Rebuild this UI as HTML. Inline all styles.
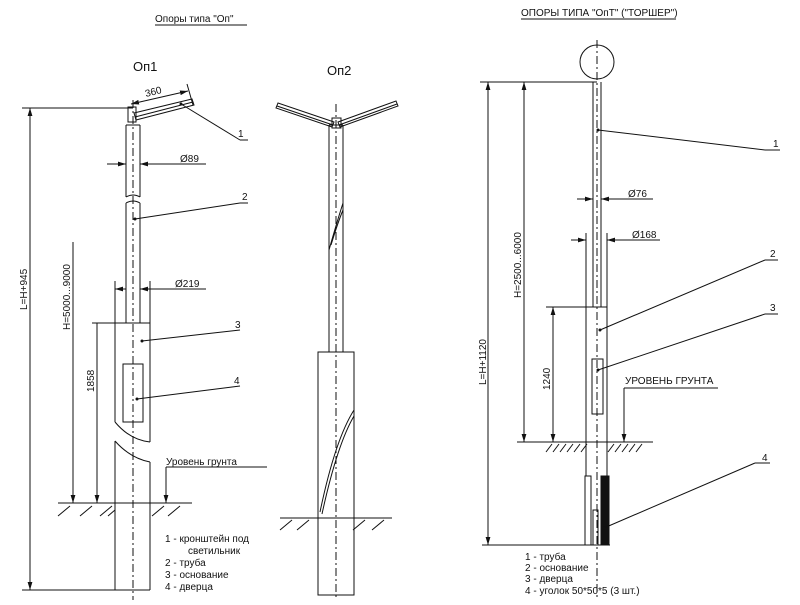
<!DOCTYPE html>
<html><head><meta charset="utf-8"><style>
html,body{margin:0;padding:0;background:#fff;}
svg{display:block;}
text{font-family:"Liberation Sans","DejaVu Sans",sans-serif;fill:#111;}
</style></head><body>
<svg width="800" height="605" viewBox="0 0 800 605" xmlns="http://www.w3.org/2000/svg">
<defs>
<marker id="a" viewBox="0 0 10 10" refX="10" refY="5" markerWidth="8" markerHeight="8" orient="auto-start-reverse" markerUnits="userSpaceOnUse"><path d="M0,2 L10,5 L0,8z" fill="#111"/></marker>
</defs>
<g stroke="#111" stroke-width="1" fill="none">
<!-- Titles -->
<line x1="155" y1="25" x2="247" y2="25"/>
<line x1="521" y1="19" x2="676" y2="19"/>

<!-- ===== Op1 ===== -->
<rect x="128" y="107" width="8" height="15"/>
<path d="M126,125 V197 M140,125 V197 M126,125 H140"/>
<path d="M126,197 Q133,193 140,197 M126,203 Q133,199 140,203"/>
<path d="M126,203 V323 M140,203 V323"/>
<line x1="133" y1="100" x2="133" y2="600" stroke-dasharray="8,3,2,3"/>
<!-- arm -->
<path d="M134,113 L192,99 L194,105 L136,120 z"/>
<line x1="135" y1="117" x2="193" y2="102"/>
<line x1="131" y1="104" x2="188" y2="91" marker-start="url(#a)" marker-end="url(#a)"/>
<line x1="187" y1="84" x2="193" y2="105"/>
<line x1="181" y1="104" x2="240" y2="140"/><line x1="240" y1="140" x2="248" y2="140"/>
<!-- dims -->
<line x1="22" y1="108" x2="133" y2="108"/>
<line x1="30" y1="108" x2="30" y2="590" marker-start="url(#a)" marker-end="url(#a)"/>
<line x1="73" y1="242" x2="73" y2="503" marker-end="url(#a)"/>
<line x1="107" y1="164" x2="126" y2="164" marker-end="url(#a)"/>
<line x1="153" y1="164" x2="140" y2="164" marker-end="url(#a)"/>
<line x1="140" y1="164" x2="206" y2="164"/>
<line x1="115" y1="281" x2="115" y2="323"/><line x1="150" y1="281" x2="150" y2="323"/>
<line x1="115" y1="289" x2="126" y2="289" marker-start="url(#a)"/>
<line x1="140" y1="289" x2="206" y2="289" marker-start="url(#a)"/>
<!-- base -->
<line x1="92" y1="323" x2="150" y2="323"/>
<path d="M115,323 V422 M150,323 V442 M115,422 Q130,440 150,442"/>
<path d="M115,441 Q130,458 150,462 M115,441 V590 M150,462 V590"/>
<line x1="97" y1="323" x2="97" y2="503" marker-end="url(#a)"/>
<rect x="123" y="364" width="20" height="58"/>
<line x1="22" y1="590" x2="150" y2="590"/>
<!-- leaders -->
<line x1="135" y1="219" x2="240" y2="203"/><line x1="240" y1="203" x2="248" y2="203"/>
<line x1="142" y1="341" x2="240" y2="330"/>
<line x1="137" y1="399" x2="240" y2="386"/>
<!-- ground -->
<line x1="58" y1="503" x2="192" y2="503"/>
<path d="M58,516 L70,506 M80,516 L92,506 M100,516 L112,506 M108,516 L115,510 M152,516 L164,506 M168,516 L180,506"/>
<line x1="166" y1="467" x2="267" y2="467"/>
<line x1="166" y1="467" x2="166" y2="503" marker-end="url(#a)"/>

<!-- ===== Op2 ===== -->
<rect x="332" y="118" width="9" height="10"/>
<path d="M329,125 V352 M343,125 V352 M329,125 H343"/>
<line x1="336" y1="104" x2="336" y2="600" stroke-dasharray="8,3,2,3"/>
<path d="M334,122 L278,103 L276,108 L332,127 z"/><line x1="333" y1="125" x2="277" y2="106"/>
<path d="M338,122 L396,101 L398,106 L340,127 z"/><line x1="339" y1="125" x2="397" y2="104"/>
<path d="M329,250 Q336,225 343,203 M331,245 Q338,222 343,210"/>
<rect x="318" y="352" width="36" height="243"/>
<path d="M320,512 Q335,440 354,410 M322,514 Q337,445 354,416"/>
<line x1="280" y1="518" x2="392" y2="518"/>
<path d="M280,530 L292,520 M297,530 L309,520 M353,530 L365,520 M372,530 L384,520"/>

<!-- ===== OpT ===== -->
<circle cx="597" cy="62" r="17"/>
<line x1="597" y1="40" x2="597" y2="600" stroke-dasharray="8,3,2,3"/>
<path d="M593,82 V307 M601,82 V307"/>
<line x1="480" y1="82" x2="597" y2="82"/>
<line x1="488" y1="82" x2="488" y2="545" marker-start="url(#a)" marker-end="url(#a)"/>
<line x1="524" y1="82" x2="524" y2="442" marker-start="url(#a)" marker-end="url(#a)"/>
<line x1="577" y1="199" x2="593" y2="199" marker-end="url(#a)"/>
<line x1="614" y1="199" x2="601" y2="199" marker-end="url(#a)"/>
<line x1="601" y1="199" x2="653" y2="199"/>
<line x1="586" y1="233" x2="586" y2="307"/><line x1="607" y1="233" x2="607" y2="307"/>
<line x1="571" y1="240" x2="586" y2="240" marker-end="url(#a)"/>
<line x1="620" y1="240" x2="607" y2="240" marker-end="url(#a)"/>
<line x1="607" y1="240" x2="660" y2="240"/>
<path d="M586,307 V476 M607,307 V476"/>
<line x1="546" y1="307" x2="607" y2="307"/>
<line x1="553" y1="307" x2="553" y2="442" marker-start="url(#a)" marker-end="url(#a)"/>
<rect x="592" y="359" width="11" height="55"/>
<line x1="517" y1="442" x2="653" y2="442"/>
<path d="M546,452 L552,444 M553,452 L559,444 M560,452 L566,444 M567,452 L573,444 M574,452 L580,444 M581,452 L587,444 M608,452 L614,444 M615,452 L621,444 M622,452 L628,444 M629,452 L635,444 M636,452 L642,444"/>
<line x1="624" y1="388" x2="718" y2="388"/>
<line x1="624" y1="388" x2="624" y2="442" marker-end="url(#a)"/>
<rect x="585" y="476" width="6" height="69"/>
<rect x="601" y="476" width="8" height="69" fill="#111"/>
<rect x="593" y="510" width="5" height="35"/>
<line x1="482" y1="545" x2="610" y2="545"/>
<line x1="598" y1="130" x2="765" y2="150"/><line x1="765" y1="150" x2="780" y2="150"/>
<line x1="600" y1="330" x2="765" y2="260"/><line x1="765" y1="260" x2="778" y2="260"/>
<line x1="598" y1="370" x2="765" y2="314"/><line x1="765" y1="314" x2="778" y2="314"/>
<line x1="604" y1="528" x2="755" y2="463"/><line x1="755" y1="463" x2="770" y2="463"/>
</g>
<g fill="#111">
<circle cx="181" cy="104" r="1.5"/><circle cx="135" cy="219" r="1.5"/><circle cx="142" cy="341" r="1.5"/><circle cx="137" cy="399" r="1.5"/>
<circle cx="598" cy="130" r="1.5"/><circle cx="600" cy="330" r="1.5"/><circle cx="598" cy="370" r="1.5"/><circle cx="604" cy="528" r="1.5"/>
</g>
<!-- texts -->
<text x="155" y="22" font-size="10">Опоры типа "Оп"</text>
<text x="521" y="16" font-size="10">ОПОРЫ ТИПА "ОпТ" ("ТОРШЕР")</text>
<text x="133" y="71" font-size="13">Оп1</text>
<text x="327" y="75" font-size="13">Оп2</text>
<text x="146" y="97" font-size="10" transform="rotate(-14 146 97)">360</text>
<text x="238" y="137" font-size="10">1</text>
<text x="242" y="200" font-size="10">2</text>
<text x="235" y="328" font-size="10">3</text>
<text x="234" y="384" font-size="10">4</text>
<text x="180" y="162" font-size="10">Ø89</text>
<text x="175" y="287" font-size="10">Ø219</text>
<text x="27" y="310" font-size="10" transform="rotate(-90 27 310)">L=H+945</text>
<text x="70" y="330" font-size="10" transform="rotate(-90 70 330)">H=5000...9000</text>
<text x="94" y="392" font-size="10" transform="rotate(-90 94 392)">1858</text>
<text x="166" y="465" font-size="10">Уровень грунта</text>
<g font-size="10">
<text x="165" y="542">1 - кронштейн под</text>
<text x="188" y="554">светильник</text>
<text x="165" y="566">2 - труба</text>
<text x="165" y="578">3 - основание</text>
<text x="165" y="590">4 - дверца</text>
</g>
<text x="773" y="147" font-size="10">1</text>
<text x="770" y="257" font-size="10">2</text>
<text x="770" y="311" font-size="10">3</text>
<text x="762" y="461" font-size="10">4</text>
<text x="628" y="197" font-size="10">Ø76</text>
<text x="632" y="238" font-size="10">Ø168</text>
<text x="625" y="384" font-size="10">УРОВЕНЬ ГРУНТА</text>
<text x="486" y="385" font-size="10" transform="rotate(-90 486 385)">L=H+1120</text>
<text x="521" y="298" font-size="10" transform="rotate(-90 521 298)">H=2500...6000</text>
<text x="550" y="390" font-size="10" transform="rotate(-90 550 390)">1240</text>
<g font-size="10">
<text x="525" y="560">1 - труба</text>
<text x="525" y="571">2 - основание</text>
<text x="525" y="582">3 - дверца</text>
<text x="525" y="594">4 - уголок 50*50*5 (3 шт.)</text>
</g>
</svg>
</body></html>
